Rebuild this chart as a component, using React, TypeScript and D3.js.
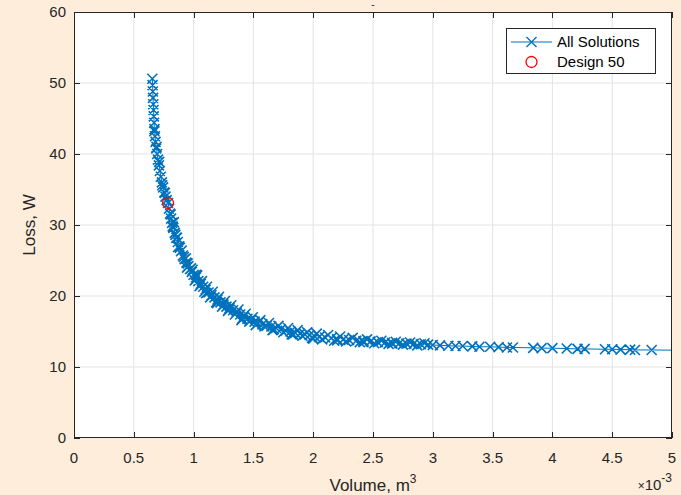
import React, { useRef, useEffect } from 'react';
import * as d3 from 'd3';

// Pareto front, volume in units of 1e-3 m^3, loss in W
const volumeMain = [
  0.655, 0.657, 0.659, 0.661, 0.663, 0.665, 0.667, 0.670, 0.673, 0.677,
  0.682, 0.688, 0.695, 0.702, 0.710, 0.718, 0.726, 0.735, 0.745, 0.755,
  0.765, 0.775, 0.786, 0.795, 0.803, 0.812, 0.820, 0.830, 0.842, 0.855,
  0.868, 0.880, 0.895, 0.910, 0.925, 0.940, 0.955, 0.970, 0.985, 1.000,
  1.020, 1.040, 1.060, 1.080, 1.100, 1.125, 1.150, 1.175, 1.200, 1.225,
  1.250, 1.275, 1.300, 1.330, 1.360, 1.390, 1.420, 1.450, 1.480, 1.510,
  1.540, 1.575, 1.610, 1.650, 1.690, 1.730, 1.770, 1.810, 1.850, 1.890,
  1.930, 1.970, 2.010, 2.050, 2.100, 2.150, 2.200, 2.250, 2.300, 2.360,
  2.420, 2.480, 2.540, 2.600, 2.660, 2.720, 2.780, 2.840, 2.900, 2.960,
  3.000, 3.060, 3.130, 3.190, 3.250, 3.330, 3.390, 3.480, 3.550, 3.620,
  3.670, 3.840, 3.910, 4.000, 4.120, 4.210, 4.270, 4.440, 4.500, 4.570,
  4.650, 4.690, 4.830, 5.400
];
const lossMain = [
  50.6, 49.7, 48.8, 47.9, 47.0, 46.2, 45.3, 44.4, 43.5, 42.5,
  41.7, 40.8, 40.0, 39.2, 38.4, 37.6, 36.8, 36.0, 35.3, 34.6,
  34.0, 33.5, 33.1, 32.3, 31.6, 30.9, 30.3, 29.6, 28.9, 28.2,
  27.6, 27.0, 26.3, 25.7, 25.2, 24.7, 24.2, 23.8, 23.4, 23.0,
  22.6, 22.1, 21.7, 21.3, 20.9, 20.5, 20.1, 19.8, 19.5, 19.1,
  18.8, 18.5, 18.3, 18.0, 17.7, 17.4, 17.1, 16.8, 16.6, 16.4,
  16.2, 16.0, 15.8, 15.7, 15.5, 15.3, 15.1, 15.0, 14.8, 14.7,
  14.6, 14.5, 14.35, 14.25, 14.15, 14.05, 13.95, 13.85, 13.8, 13.7,
  13.65, 13.6, 13.5, 13.45, 13.4, 13.35, 13.3, 13.25, 13.2, 13.15,
  13.1, 13.05, 13.0, 12.95, 12.95, 12.9, 12.85, 12.85, 12.8, 12.75,
  12.75, 12.7, 12.65, 12.65, 12.6, 12.55, 12.55, 12.5, 12.5, 12.45,
  12.45, 12.4, 12.4, 12.3
];
// scattered neighbours in the dense part of the front
const volumeScatter = [
  0.672, 0.690, 0.712, 0.738, 0.760, 0.808, 0.825,
  0.835, 0.848, 0.862, 0.885, 0.900, 0.918, 0.935, 0.950, 0.978, 0.992,
  1.010, 1.030, 1.050, 1.070, 1.090, 1.112, 1.138, 1.160, 1.188, 1.212,
  1.238, 1.262, 1.288, 1.315, 1.345, 1.375, 1.405, 1.435, 1.465, 1.495,
  1.525, 1.558, 1.592, 1.630, 1.670, 1.710, 1.750, 1.790, 1.830, 1.870,
  1.910, 1.950, 1.990, 2.030, 2.075, 2.125, 2.175, 2.225, 2.275, 2.330,
  2.390, 2.450, 2.510, 2.570, 2.630, 2.690, 2.750, 2.810, 2.870, 2.930,
  0.870, 0.945, 1.020, 1.105, 1.195, 1.290, 1.400, 1.520, 1.660, 1.820,
  2.000, 2.200, 2.420, 2.660
];
const lossScatter = [
  43.2, 41.0, 38.9, 35.6, 34.5, 31.5, 29.8,
  30.4, 28.6, 28.2, 26.8, 26.4, 25.5, 25.3, 24.6, 23.9, 23.7,
  22.2, 22.9, 21.4, 22.1, 20.6, 21.3, 19.8, 20.6, 19.1, 19.9,
  18.5, 19.3, 17.9, 18.7, 17.4, 18.1, 16.8, 17.5, 16.4, 17.0,
  16.0, 16.6, 15.7, 16.2, 15.3, 15.8, 14.9, 15.5, 14.6, 15.2,
  14.4, 14.9, 14.1, 14.7, 13.9, 14.5, 13.7, 14.3, 13.6, 14.1,
  13.5, 13.9, 13.35, 13.7, 13.25, 13.55, 13.15, 13.45, 13.05, 13.35,
  26.9, 24.0, 23.0, 20.4, 19.0, 18.0, 16.6, 15.9, 15.2, 14.6,
  14.0, 13.75, 13.5, 13.3
];
const designVolume = 0.786;
const designLoss = 33.1;

const xTicks = [0, 0.5, 1, 1.5, 2, 2.5, 3, 3.5, 4, 4.5, 5];
const yTicks = [0, 10, 20, 30, 40, 50, 60];
const legendLabels = ['All Solutions', 'Design 50'];

const App = () => {
  const svgRef = useRef<SVGSVGElement>(null);

  useEffect(() => {
    const svg = d3.select(svgRef.current);
    svg.selectAll('*').remove();

    const W = 681, H = 495;
    const left = 74, right = 672, top = 12, bottom = 438;
    const font = '"Liberation Sans", Arial, sans-serif';
    const blue = '#0072BD';
    const axisColor = '#262626';

    svg.append('rect').attr('width', W).attr('height', H).attr('fill', '#FDEDDA');
    svg.append('rect')
      .attr('x', left).attr('y', top)
      .attr('width', right - left).attr('height', bottom - top)
      .attr('fill', '#ffffff');

    const x = d3.scaleLinear().domain([0, 5]).range([left, right]);
    const y = d3.scaleLinear().domain([0, 60]).range([bottom, top]);

    // grid
    svg.append('g').selectAll('line').data(xTicks.slice(1, -1)).join('line')
      .attr('x1', d => x(d)).attr('x2', d => x(d))
      .attr('y1', top).attr('y2', bottom)
      .attr('stroke', '#e3e3e3').attr('stroke-width', 1);
    svg.append('g').selectAll('line').data(yTicks.slice(1, -1)).join('line')
      .attr('y1', d => y(d)).attr('y2', d => y(d))
      .attr('x1', left).attr('x2', right)
      .attr('stroke', '#e3e3e3').attr('stroke-width', 1);

    const plot = svg.append('g');
    svg.append('clipPath').attr('id', 'plotclip')
      .append('rect').attr('x', left).attr('y', top)
      .attr('width', right - left).attr('height', bottom - top);
    plot.attr('clip-path', 'url(#plotclip)');

    const pts = d3.zip(volumeMain.concat(volumeScatter), lossMain.concat(lossScatter))
      .sort((a, b) => a[0] - b[0]);

    const line = d3.line<number[]>().x(d => x(d[0])).y(d => y(d[1]));
    plot.append('path').datum(pts)
      .attr('d', line)
      .attr('fill', 'none').attr('stroke', blue).attr('stroke-width', 1);

    const m = 5;
    const cross = (px: number, py: number) =>
      `M${px - m},${py - m}L${px + m},${py + m}M${px - m},${py + m}L${px + m},${py - m}`;
    plot.append('path')
      .attr('d', pts.filter(d => d[0] <= 5).map(d => cross(x(d[0]), y(d[1]))).join(''))
      .attr('fill', 'none').attr('stroke', blue).attr('stroke-width', 1.6);

    plot.append('circle')
      .attr('cx', x(designVolume)).attr('cy', y(designLoss)).attr('r', 5.5)
      .attr('fill', 'none').attr('stroke', '#ff0000').attr('stroke-width', 1.3);

    // box and ticks
    svg.append('rect')
      .attr('x', left + 0.5).attr('y', top + 0.5)
      .attr('width', right - left - 1).attr('height', bottom - top - 1)
      .attr('fill', 'none').attr('stroke', axisColor).attr('stroke-width', 1);
    const tl = 6;
    const ticks = svg.append('g').attr('stroke', axisColor).attr('stroke-width', 1);
    xTicks.forEach(t => {
      const px = Math.round(x(t)) + 0.5;
      ticks.append('line').attr('x1', px).attr('x2', px).attr('y1', bottom).attr('y2', bottom - tl);
      ticks.append('line').attr('x1', px).attr('x2', px).attr('y1', top).attr('y2', top + tl);
    });
    yTicks.forEach(t => {
      const py = Math.round(y(t)) + 0.5;
      ticks.append('line').attr('x1', left).attr('x2', left + tl).attr('y1', py).attr('y2', py);
      ticks.append('line').attr('x1', right).attr('x2', right - tl).attr('y1', py).attr('y2', py);
    });

    svg.append('g').selectAll('text').data(xTicks).join('text')
      .attr('x', d => x(d)).attr('y', bottom + 25)
      .attr('text-anchor', 'middle')
      .attr('font-family', font).attr('font-size', 15).attr('fill', axisColor)
      .text(d => String(d));
    svg.append('g').selectAll('text').data(yTicks).join('text')
      .attr('x', left - 8).attr('y', d => y(d) + 5)
      .attr('text-anchor', 'end')
      .attr('font-family', font).attr('font-size', 15).attr('fill', axisColor)
      .text(d => String(d));

    // axis labels
    const xl = svg.append('text')
      .attr('x', (left + right) / 2).attr('y', bottom + 53)
      .attr('text-anchor', 'middle')
      .attr('font-family', font).attr('font-size', 17).attr('fill', axisColor);
    xl.append('tspan').text('Volume, m');
    xl.append('tspan').attr('dy', -8).attr('font-size', 12).text('3');

    svg.append('text')
      .attr('transform', `translate(35,${(top + bottom) / 2}) rotate(-90)`)
      .attr('text-anchor', 'middle')
      .attr('font-family', font).attr('font-size', 17).attr('fill', axisColor)
      .text('Loss, W');

    const ex = svg.append('text')
      .attr('x', right).attr('y', bottom + 52)
      .attr('text-anchor', 'end')
      .attr('font-family', font).attr('font-size', 15).attr('fill', axisColor);
    ex.append('tspan').attr('font-size', 12).text('\u00d7');
    ex.append('tspan').text('10');
    ex.append('tspan').attr('dy', -8).attr('font-size', 12).text('-3');

    svg.append('text')
      .attr('x', (left + right) / 2).attr('y', 8)
      .attr('text-anchor', 'middle')
      .attr('font-family', font).attr('font-size', 10).attr('fill', axisColor)
      .text('-');

    // legend
    const lg = svg.append('g');
    lg.append('rect')
      .attr('x', 506.5).attr('y', 28.5).attr('width', 149).attr('height', 45)
      .attr('fill', '#ffffff').attr('stroke', axisColor).attr('stroke-width', 1);
    lg.append('line').attr('x1', 511).attr('x2', 552).attr('y1', 42).attr('y2', 42)
      .attr('stroke', blue).attr('stroke-width', 1);
    lg.append('path').attr('d', cross(531.5, 42))
      .attr('fill', 'none').attr('stroke', blue).attr('stroke-width', 1.4);
    lg.append('circle').attr('cx', 531.5).attr('cy', 62).attr('r', 5.5)
      .attr('fill', 'none').attr('stroke', '#ff0000').attr('stroke-width', 1.3);
    lg.selectAll('text.lab').data(legendLabels).join('text')
      .attr('class', 'lab')
      .attr('x', 557).attr('y', (d, i) => 47 + i * 20)
      .attr('font-family', font).attr('font-size', 15).attr('fill', '#000000')
      .text(d => d);
  }, []);

  return (
    <svg ref={svgRef} width="681" height="495"
      style={{ position: 'absolute', left: 0, top: 0, display: 'block' }}></svg>
  );
};

export default App;
